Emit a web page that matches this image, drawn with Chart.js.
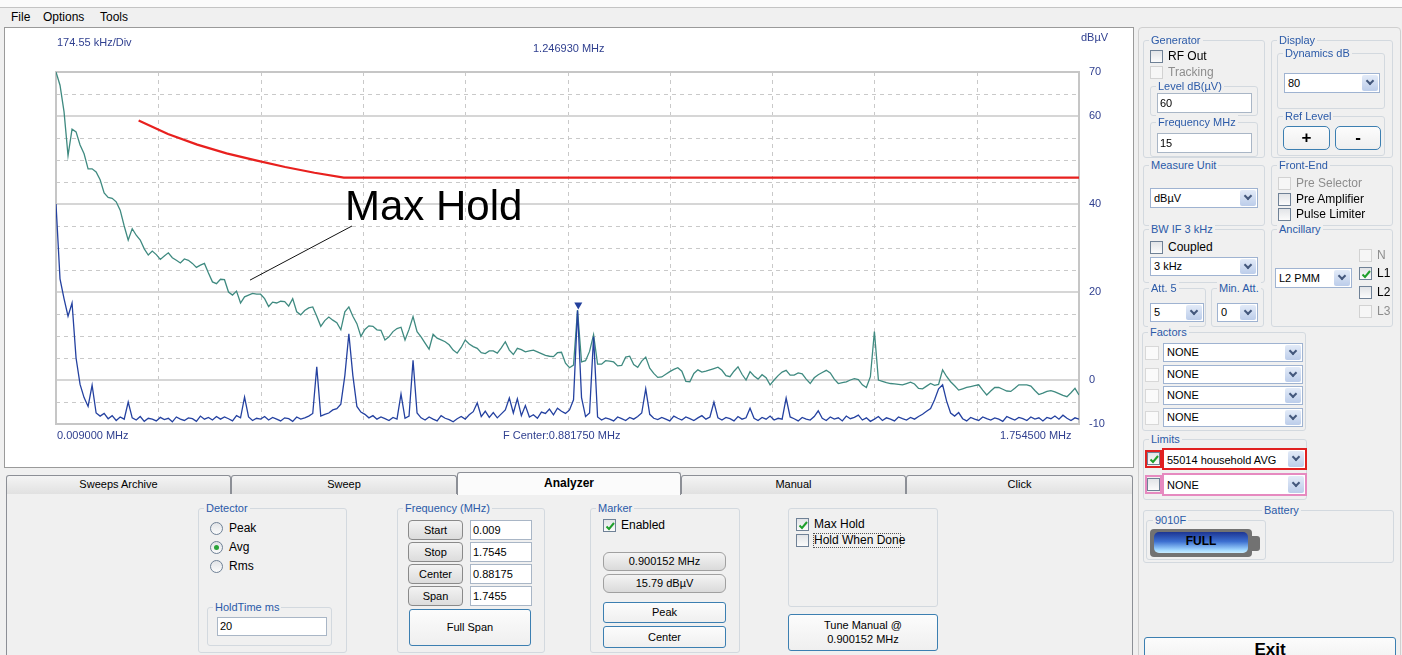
<!DOCTYPE html>
<html>
<head>
<meta charset="utf-8">
<script src="https://cdn.jsdelivr.net/npm/chart.js@4.4.0/dist/chart.umd.min.js"></script>
<style>
body { margin:0; width:1402px; height:655px; overflow:hidden; background:#f0f0f0; font-family:"Liberation Sans", Arial, sans-serif; font-size:11px; color:#000; position:relative; }
.a { position:absolute; box-sizing:border-box; white-space:nowrap; }
.grp { border:1px solid #d3d9df; border-radius:3px; }
.lg { position:absolute; top:-8px; left:5px; padding:0 2px; background:#f0f0f0; color:#2b5aa8; line-height:14px; white-space:nowrap; }
.cb { width:13px; height:13px; border:1px solid #6f8196; background:linear-gradient(#e2e4e7,#fbfbfb); }
.cb.dis { border-color:#d2d2d2; background:#f6f6f6; }
.cb svg { position:absolute; left:0; top:0; }
.lbl { line-height:14px; }
.dt { color:#8d8d8d; }
.inp { background:#fff; border:1px solid #a9b6c6; padding-left:2px; }
.sel { background:#fff; border:1px solid #9fb3d1; padding-left:3px; }
.sel .dd { position:absolute; right:1px; top:1px; bottom:1px; width:16px; background:linear-gradient(#e3ebf8,#bccdea); border-radius:2px; }
.sel .dd:after { content:""; position:absolute; left:5px; top:50%; margin-top:-5px; width:4px; height:4px; border-right:2px solid #44587c; border-bottom:2px solid #44587c; transform:rotate(45deg); }
.btn { border:1px solid #8a8a8a; border-radius:4px; background:linear-gradient(#f3f3f3,#dcdcdc); text-align:center; }
.bbtn { border:1px solid #3c7fb1; border-radius:3px; background:linear-gradient(#fcfcfc,#efefef); text-align:center; }
.ro { border:1px solid #a0a0a0; border-radius:6px; background:linear-gradient(#f4f4f4,#dadada); text-align:center; }
.tab { border:1px solid #8c8f96; border-bottom:none; border-radius:3px 3px 0 0; background:linear-gradient(#f4f4f4,#e1e1e1); text-align:center; }
.rad { width:13px; height:13px; border:1px solid #6f8196; border-radius:50%; background:linear-gradient(#e2e4e7,#fbfbfb); }
.rad.on:after { content:""; position:absolute; left:3px; top:3px; width:5px; height:5px; border-radius:50%; background:#2aa33a; }
.hd { color:#2f3f8f; font-size:11px; line-height:14px; }
</style>
</head>
<body>
<div class="a" style="left:0;top:0;width:1402px;height:8px;background:#fbfbfb;border-bottom:1px solid #c4c4c4"></div>
<div class="a" style="left:11px;top:10px;font-size:12px">File</div>
<div class="a" style="left:43px;top:10px;font-size:12px">Options</div>
<div class="a" style="left:100px;top:10px;font-size:12px">Tools</div>

<div class="a" style="left:4px;top:27px;width:1130px;height:441px;background:#fff;border:1px solid #9a9a9a"></div>
<div class="a" style="left:5px;top:28px;width:1128px;height:438px">
  <canvas id="screen"></canvas>
</div>
<div class="a hd" style="left:57px;top:35px">174.55 kHz/Div</div>
<div class="a hd" style="left:533px;top:41px">1.246930 MHz</div>
<div class="a hd" style="left:1081px;top:30px">dBµV</div>
<div class="a hd" style="left:57px;top:428px">0.009000 MHz</div>
<div class="a hd" style="left:503px;top:428px">F Center:0.881750 MHz</div>
<div class="a hd" style="left:1000px;top:428px">1.754500 MHz</div>

<div class="a" style="left:1138px;top:27px;width:263px;height:700px;border:1px solid #cfcfcf;border-radius:4px"></div>
<div id="ui"></div>

<script>
// sweep settings (MHz)
const startMHz = 0.009;
const stopMHz = 1.7545;
const divMHz = 0.17455;

// Max Hold trace (dBuV), one value per sweep point
const maxHoldLevels = [
  70, 67, 61, 51, 57, 56.4, 53.4, 51.4, 48, 48,
  47.3, 45.5, 42.5, 41.5, 41.3, 40.5, 38.6, 35, 31.8, 34.4,
  32.9, 31.8, 29.8, 28.4, 29.3, 28.5, 27.4, 28.2, 28.9, 27.8,
  27.2, 26.6, 27.5, 27.2, 26.5, 25.6, 26.1, 26.5, 24.3, 22.3,
  21.9, 22.9, 22.8, 20, 19.3, 20.2, 17.5, 18.9, 19.3, 19.7,
  19.5, 19.5, 18.5, 16.7, 17.7, 17.5, 17.9, 17.8, 16.8, 18.5,
  15.5, 14.8, 15.8, 16.4, 16.6, 14.5, 12.2, 13.5, 14.3, 13.6,
  13, 11.4, 15.5, 16.6, 14.5, 12.8, 9.9, 11.5, 12.3, 12.2,
  11.4, 11.3, 9.1, 9.8, 11, 11.7, 12, 9.1, 11.5, 14.4,
  11, 9.8, 8.4, 7, 10.4, 9.5, 9.1, 8.7, 8, 6.8,
  6.1, 7.4, 9.1, 8.2, 7.6, 7.2, 6.2, 6, 6.6, 6.6,
  6.1, 7.3, 8.7, 6.8, 5.8, 7.2, 6.9, 6.4, 6.6, 6.8,
  6.4, 6, 5.6, 5.4, 5.3, 6.2, 6.3, 3.8, 2.8, 3.4,
  15.9, 4.1, 4.4, 6.5, 10.3, 3.6, 3.6, 4.4, 4.3, 4.1,
  3.2, 3.3, 5.2, 5.4, 3.5, 2.9, 4.3, 5.2, 2.7, 1.5,
  0.6, 0.7, 1.3, 1.9, 2.4, 2.8, 2, -0.3, -0.4, 1.5,
  2.3, 1.8, 2, 2.3, 2.6, 2.9, 2.2, 1, 0.75, 2,
  3, 1.3, 0, 1.9, 0.9, 0.2, 1.2, 0.5, -1.1, 0,
  1, 1.8, 2.2, 1.1, 1.1, 1.6, 1.4, 0.2, -0.8, 0.5,
  1.2, 1.7, 2.2, 1.6, 0.2, -0.8, -0.6, -0.4, 0, 0.3,
  0.1, -1.1, -1.7, 0.75, 11, 0, -0.3, -0.6, -0.8, -0.9,
  -1, -1.1, -0.8, -0.5, -0.9, -1.9, -2, -1.4, -0.8, -1.2,
  -1, 2.3, 0.8, -0.4, -1.3, -2.3, -2, -1.7, -1.5, -1.3,
  -1.1, -2.3, -3.4, -2.5, -1.7, -1.7, -2.1, -2.5, -2.6, -1.9,
  -1.1, -1.1, -1.1, -1.4, -2.4, -3.3, -3, -2.6, -2.4, -2.7,
  -3.1, -3.5, -3.8, -2.9, -1.9, -3.4
];

// Avg detector trace (dBuV)
const avgLevels = [
  40, 23, 18.5, 14.5, 17.5, 5, -1, -4, -6, -1.2,
  -7.5, -8.2, -7.6, -8.8, -8.1, -9.2, -8.4, -8.9, -5, -8.6,
  -9.1, -8.3, -9.4, -8.7, -8.9, -9.3, -8.5, -9, -8.7, -9.5,
  -8.4, -8.9, -9.2, -8.6, -8.8, -9.4, -8.2, -8.9, -8.5, -9.1,
  -8.3, -8.9, -8.4, -8.8, -9.3, -8.1, -8.6, -3.9, -8.4, -9.2,
  -8.7, -8.9, -8.3, -9.1, -8.5, -8.9, -9.3, -8.6, -8.8, -9.4,
  -8.4, -8.9, -8.6, -8.2, -7.6, 3, -8.2, -7.8, -7.5, -6.8,
  -6.5, -5.5, 1, 10.5, 1, -6, -7.3, -7.8, -8.6, -8.1,
  -8.9, -8.4, -8.8, -9.2, -8.5, -8.9, -3.2, -8.7, -8.2, 4.5,
  -7.5, -8.6, -9.1, -8.4, -8.9, -9.3, -8.1, -8.7, -9, -9.5,
  -8.8, -8.3, -8.9, -7.9, -7.2, -5.2, -8.3, -7.1, -8.5, -7.4,
  -8.6, -7.7, -6.8, -4.1, -7.5, -4.3, -8.1, -5.8, -8.4, -7.9,
  -8.7, -7.3, -7.6, -6.6, -7.9, -6.4, -7.1, -7.6, -6.8, -4.5,
  15.8, -4, -8.3, -7.5, 9.8, -8.4, -9.1, -8.6, -8.9, -9.3,
  -8.4, -8.8, -9.2, -8.5, -8.9, -8.3, -7.5, -2, -7.8, -8.7,
  -9, -8.5, -8.9, -9.3, -8.2, -8.7, -9.1, -8.4, -8.8, -9.2,
  -8.6, -8.1, -8.9, -8.4, -5, -8.6, -9.1, -8.5, -8.8, -9.3,
  -8.3, -8.9, -8.6, -6.4, -8.7, -9.2, -8.5, -8.9, -8.2, -9.1,
  -8.7, -8.9, -4.1, -8.4, -8.8, -9.3, -8.5, -8.9, -9.1, -8.3,
  -7, -8.7, -9.2, -8.4, -8.9, -8.6, -9.3, -8.2, -8.8, -8.5,
  -8, -9.1, -8.6, -9.4, -8.9, -8.3, -9.2, -8.6, -8.9, -9.3,
  -8.4, -8.8, -9.1, -8.5, -8.9, -8.3, -7.8, -7.1, -6.5, -4.5,
  -2, -1.1, -4.8, -7.5, -8.2, -7.4, -8.8, -9.3, -8.5, -8.9,
  -9.2, -8.4, -8.8, -9.1, -8.6, -8.9, -9.4, -8.3, -8.7, -9.1,
  -8.5, -8.8, -9.2, -8.4, -8.9, -8.6, -9.3, -8.5, -8.8, -8.2,
  -8.9, -8, -8.7, -9.2, -8.6, -8.9
];

// 55014 household AVG limit line
const limitFreqs = [0.15, 0.2, 0.25, 0.3, 0.35, 0.4, 0.45, 0.5, 1.7545];
const limitLevels = [59, 55.9, 53.5, 51.5, 49.9, 48.4, 47.1, 46, 46];

// y axis
const yTickLabels = [70, 60, 40, 20, 0, -10];
const solidLevels = [60, 40, 20, 0];

// marker + annotation
const markerFreq = 0.900152;
const markerLevel = 15.79;
const noteText = "Max Hold";
const notePos = [0.502, 36.4];
const noteLine = [[0.514, 35.0], [0.34, 22.7]];

const stepMHz = (stopMHz - startMHz) / (maxHoldLevels.length - 1);
const sweepFreqs = maxHoldLevels.map((v, i) => startMHz + i * stepMHz);

const screenPlugin = {
  id: "screen",
  beforeDatasetsDraw(chart) {
    const { ctx, chartArea: a, scales: { x, y } } = chart;
    ctx.save();
    ctx.lineWidth = 1;
    ctx.strokeStyle = "#c9c9c9";
    ctx.setLineDash([4, 4]);
    for (let k = 1; k < 10; k++) {
      const px = Math.round(x.getPixelForValue(startMHz + k * divMHz)) + 0.5;
      ctx.beginPath(); ctx.moveTo(px, a.top); ctx.lineTo(px, a.bottom); ctx.stroke();
    }
    for (let lv = -5; lv < 70; lv += 5) {
      if (solidLevels.includes(lv)) continue;
      const py = Math.round(y.getPixelForValue(lv)) + 0.5;
      ctx.beginPath(); ctx.moveTo(a.left, py); ctx.lineTo(a.right, py); ctx.stroke();
    }
    ctx.setLineDash([]);
    ctx.strokeStyle = "#d6d6d6";
    ctx.lineWidth = 2;
    solidLevels.forEach((lv) => {
      const py = Math.round(y.getPixelForValue(lv));
      ctx.beginPath(); ctx.moveTo(a.left, py); ctx.lineTo(a.right, py); ctx.stroke();
    });
    ctx.strokeStyle = "#c6c6c6";
    ctx.strokeRect(a.left, a.top, a.right - a.left, a.bottom - a.top);
    ctx.restore();
  },
  afterDatasetsDraw(chart) {
    const { ctx, chartArea: a, scales: { x, y } } = chart;
    ctx.save();
    // marker
    const mx = x.getPixelForValue(markerFreq);
    const my = y.getPixelForValue(markerLevel);
    ctx.fillStyle = "#23409c";
    ctx.beginPath();
    ctx.moveTo(mx - 4, my - 8); ctx.lineTo(mx + 4, my - 8); ctx.lineTo(mx, my - 1);
    ctx.closePath(); ctx.fill();
    // y labels
    ctx.fillStyle = "#2f3f8f";
    ctx.font = "11px 'Liberation Sans', Arial";
    ctx.textBaseline = "middle";
    ctx.textAlign = "left";
    yTickLabels.forEach((lv) => ctx.fillText(String(lv), a.right + 10, y.getPixelForValue(lv)));
    // Max Hold note
    ctx.strokeStyle = "#111";
    ctx.lineWidth = 1;
    ctx.beginPath();
    ctx.moveTo(x.getPixelForValue(noteLine[0][0]), y.getPixelForValue(noteLine[0][1]));
    ctx.lineTo(x.getPixelForValue(noteLine[1][0]), y.getPixelForValue(noteLine[1][1]));
    ctx.stroke();
    ctx.fillStyle = "#000";
    ctx.font = "42px 'Liberation Sans', Arial";
    ctx.textBaseline = "alphabetic";
    ctx.fillText(noteText, x.getPixelForValue(notePos[0]), y.getPixelForValue(notePos[1]));
    ctx.restore();
  },
};

new Chart(document.getElementById("screen").getContext("2d"), {
  type: "line",
  data: {
    datasets: [
      {
        label: "Limit",
        data: limitFreqs.map((f, i) => ({ x: f, y: limitLevels[i] })),
        borderColor: "#e8201e",
        borderWidth: 2.2,
        pointRadius: 0,
        order: 0,
      },
      {
        label: "Avg",
        data: sweepFreqs.map((f, i) => ({ x: f, y: avgLevels[i] })),
        borderColor: "#2441a0",
        borderWidth: 1.3,
        pointRadius: 0,
        order: 1,
      },
      {
        label: "Max Hold",
        data: sweepFreqs.map((f, i) => ({ x: f, y: maxHoldLevels[i] })),
        borderColor: "#3f8a80",
        borderWidth: 1.3,
        pointRadius: 0,
        order: 2,
      },
    ],
  },
  options: {
    responsive: true,
    maintainAspectRatio: false,
    animation: false,
    layout: { padding: { left: 51, top: 44, right: 54, bottom: 42 } },
    scales: {
      x: { type: "linear", min: startMHz, max: stopMHz, display: false },
      y: { min: -10, max: 70, display: false },
    },
    plugins: { legend: { display: false }, tooltip: { enabled: false } },
  },
  plugins: [screenPlugin],
});

// ---- panels around the screen ----
const ui = document.getElementById("ui");
function put(x, y, w, h, cls, html, extra) {
  const d = document.createElement("div");
  d.className = "a " + (cls || "");
  d.style.left = x + "px";
  d.style.top = y + "px";
  if (w) d.style.width = w + "px";
  if (h) { d.style.height = h + "px"; d.style.lineHeight = (h - 2) + "px"; }
  if (html) d.innerHTML = html;
  if (extra) d.style.cssText += extra;
  ui.appendChild(d);
  return d;
}
function group(x, y, w, h, title, tl) {
  const g = put(x, y, w, h, "grp");
  g.style.lineHeight = "normal";
  if (title) {
    const l = document.createElement("div");
    l.className = "lg";
    l.textContent = title;
    if (tl != null) l.style.left = tl + "px";
    g.appendChild(l);
  }
}
const tick = '<svg width="13" height="13"><path d="M2.5 6.5 L5 9 L10 3" stroke="#1f9f2b" stroke-width="2" fill="none"/></svg>';
function check(x, y, label, state, extra) {
  put(x, y, 13, 13, "cb" + (state === "dis" ? " dis" : ""), state === "on" ? tick : "", extra);
  if (label) put(x + 18, y - 1, 0, 0, "lbl" + (state === "dis" ? " dt" : ""), label, "font-size:12px");
}
function select(x, y, w, h, text, extra) {
  put(x, y, w, h, "sel", text + '<span class="dd"></span>', extra);
}

// tabs
put(6, 493, 1127, 170, "", "", "border:1px solid #8c8f96;background:#f0f0f0");
["Sweeps Archive", "Sweep", "", "Manual", "Click"].forEach((t, i) => {
  const xs = [6, 231, 457, 681, 906, 1133];
  if (t) put(xs[i], 475, xs[i + 1] - xs[i], 19, "tab", t);
});
put(457, 472, 224, 23, "tab", "<b>Analyzer</b>", "background:#fbfbfb;font-size:12px");

// detector
group(198, 508, 149, 145, "Detector");
[["Peak", 522, ""], ["Avg", 541, " on"], ["Rms", 560, ""]].forEach(([t, y, s]) => {
  put(210, y, 13, 13, "rad" + s);
  put(229, y - 1, 0, 0, "lbl", t, "font-size:12px");
});
group(207, 607, 125, 39, "HoldTime ms");
put(217, 617, 110, 19, "inp", "20");

// frequency
group(397, 508, 148, 145, "Frequency (MHz)");
[["Start", "0.009"], ["Stop", "1.7545"], ["Center", "0.88175"], ["Span", "1.7455"]].forEach(([b, v], i) => {
  put(408, 520 + i * 22, 55, 20, "btn", b);
  put(470, 520 + i * 22, 62, 20, "inp", v);
});
put(409, 609, 122, 37, "bbtn", "Full Span");

// marker
group(590, 508, 150, 145, "Marker");
check(603, 519, "Enabled", "on");
put(603, 552, 123, 19, "ro", "0.900152 MHz");
put(603, 574, 123, 19, "ro", "15.79 dBµV");
put(603, 602, 123, 21, "bbtn", "Peak");
put(603, 626, 123, 22, "bbtn", "Center");

// max hold
group(788, 508, 150, 99, "");
check(796, 518, "Max Hold", "on");
check(796, 534, "", "off");
put(813, 533, 88, 15, "lbl", "Hold When Done", "font-size:12px;border:1px dotted #555;line-height:13px");
put(788, 614, 150, 37, "bbtn", "Tune Manual @<br>0.900152 MHz", "line-height:14px;padding-top:3px");

// generator
group(1143, 40, 122, 118, "Generator");
check(1150, 50, "RF Out", "off");
check(1150, 66, "Tracking", "dis");
group(1150, 86, 108, 30, "Level dB(µV)");
put(1157, 93, 95, 20, "inp", "60");
group(1150, 122, 108, 35, "Frequency MHz");
put(1157, 133, 95, 20, "inp", "15");

// display
group(1271, 40, 122, 118, "Display");
group(1277, 53, 108, 56, "Dynamics dB");
select(1284, 73, 96, 20, "80");
group(1277, 116, 108, 40, "Ref Level");
put(1283, 126, 47, 24, "bbtn", "<b>+</b>", "font-size:17px;border-radius:5px");
put(1335, 126, 46, 24, "bbtn", "<b>-</b>", "font-size:17px;border-radius:5px");

// measure unit / front end
group(1143, 165, 122, 61, "Measure Unit");
select(1150, 188, 108, 20, "dBµV");
group(1271, 165, 122, 61, "Front-End");
check(1278, 177, "Pre Selector", "dis");
check(1278, 193, "Pre Amplifier", "off");
check(1278, 208, "Pulse Limiter", "off");

// bw / ancillary / att
group(1143, 229, 122, 54, "BW IF 3 kHz");
check(1150, 241, "Coupled", "off");
select(1150, 257, 108, 19, "3 kHz");
group(1271, 229, 122, 98, "Ancillary");
select(1275, 268, 77, 20, "L2 PMM");
check(1359, 249, "N", "dis");
check(1359, 267, "L1", "on");
check(1359, 286, "L2", "off");
check(1359, 305, "L3", "dis");
group(1143, 288, 63, 39, "Att. 5");
select(1150, 303, 54, 19, "5");
group(1211, 288, 53, 39, "Min. Att.");
select(1217, 303, 41, 19, "0");

// factors / limits
group(1142, 332, 164, 99, "Factors");
[343, 365, 386, 408].forEach((y) => {
  check(1145, y + 3, "", "dis", "width:14px;height:14px;border-color:#d8d8d8;background:#fafafa");
  select(1163, y, 140, 19, "NONE");
});
group(1143, 439, 164, 61, "Limits");
put(1145, 450, 17, 18, "", "", "border:2px solid #e02020");
check(1147, 452, "", "on");
select(1162, 448, 145, 22, "55014 household AVG", "border:2px solid #e02020");
put(1145, 475, 17, 19, "", "", "border:2px solid #e68ac0");
check(1147, 478, "", "off");
select(1162, 473, 145, 23, "NONE", "border:2px solid #e68ac0");

// battery
group(1143, 510, 251, 53, "Battery", 118);
group(1146, 520, 120, 40, "9010F", 6);
put(1150, 529, 102, 28, "", "", "background:#727272;border-radius:4px");
put(1251, 536, 9, 15, "", "", "background:#727272;border-radius:0 3px 3px 0");
put(1154, 532, 94, 21, "", "<b>FULL</b>", "background:linear-gradient(#1d3592,#3c6fd0 45%,#9fd6ff 85%,#c8ecff);border-radius:5px;text-align:center;font-size:12px;color:#000");

// exit
put(1144, 637, 252, 30, "bbtn", "<b>Exit</b>", "font-size:17px;line-height:23px");
</script>
</body>
</html>
